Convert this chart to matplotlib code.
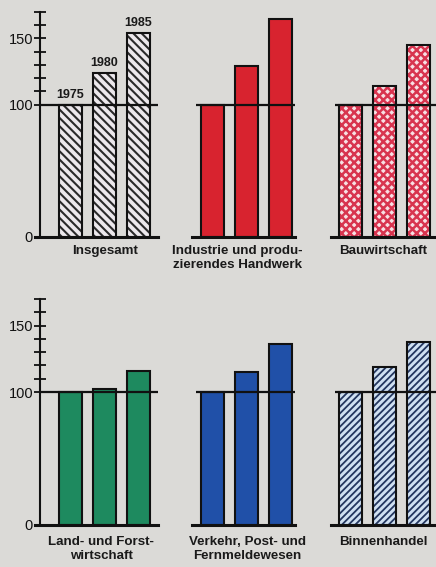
import matplotlib.pyplot as plt
import numpy as np

plt.rcParams['font.family'] = ['Liberation Sans', 'DejaVu Sans']

# Index 1975 = 100
years = ['1975', '1980', '1985']
insgesamt = [100, 124, 154]
industrie = [100, 129, 165]
bau = [100, 114, 145]
land = [100, 102, 116]
verkehr = [100, 115, 136]
binnen = [100, 119, 138]

labels = ['Insgesamt', 'Industrie und produ-\nzierendes Handwerk', 'Bauwirtschaft',
          'Land- und Forst-\nwirtschaft', 'Verkehr, Post- und\nFernmeldewesen', 'Binnenhandel']
series = [insgesamt, industrie, bau, land, verkehr, binnen]

# (face, hatch, hatch colour, hatch linewidth)
styles = [
    ('#ece8ec', '\\\\\\\\', '#2a2a2a', 1.5),
    ('#d8232f', None, None, 0),
    ('#f7e0e4', 'xxxx', '#d8344f', 1.8),
    ('#1e8a5f', None, None, 0),
    ('#2050a8', None, None, 0),
    ('#cfe0f2', '/////', '#23365f', 1.3),
]

W, H = 436, 567
BG = '#dbdad7'
fig = plt.figure(figsize=(W / 100, H / 100), dpi=100, facecolor=BG)

# pixel layout: axes left, axes right, centre of first bar
cols = [(40, 158, 70.5), (196, 295, 212.5), (335, 436, 350.5)]
rows = [(12, 237), (299, 525)]
label_x = [105, 237, 383, 101, 247, 383]
label_dy = [8, 8, 8, 11, 11, 11]
step = 34.0

for i, (vals, lab, sty) in enumerate(zip(series, labels, styles)):
    r, c = divmod(i, 3)
    x0, x1, cx = cols[c]
    yt, yb = rows[r]
    ax = fig.add_axes([x0 / W, 1 - yb / H, (x1 - x0) / W, (yb - yt) / H])
    ax.set_facecolor('none')
    ax.set_xlim(-(cx - x0) / step, (x1 - cx) / step)
    ax.set_ylim(0, 170)
    x = np.arange(len(vals))
    face, hatch, hcol, hlw = sty
    if hatch:
        with plt.rc_context({'hatch.linewidth': hlw}):
            ax.bar(x, vals, width=0.68, color=face, hatch=hatch, edgecolor=hcol,
                   linewidth=0, zorder=2)
    else:
        ax.bar(x, vals, width=0.68, color=face, linewidth=0, zorder=2)
    ax.bar(x, vals, width=0.68, fill=False, edgecolor='#111111', linewidth=1.5, zorder=3)
    ax.axhline(100, color='#111111', lw=1.6, zorder=4)
    ax.plot([-0.04, 1], [0, 0], transform=ax.transAxes, color='#111111', lw=2.2,
            clip_on=False, zorder=4)
    for s in ax.spines.values():
        s.set_visible(False)
    if c == 0:
        ax.spines['left'].set_visible(True)
        ax.spines['left'].set_linewidth(1.5)
        ax.spines['left'].set_color('#111111')
        ticks = [0, 100, 110, 120, 130, 140, 150, 160, 170]
        ax.set_yticks(ticks)
        ax.set_yticklabels(['0', '100', '', '', '', '', '150', '', ''], fontsize=10.5,
                           color='#111111')
        ax.tick_params(axis='y', direction='inout', length=8, width=1.3, pad=1,
                       color='#111111')
    else:
        ax.set_yticks([])
    ax.set_xticks([])
    fig.text(label_x[i] / W, 1 - (yb + label_dy[i]) / H, lab,
             ha='center', va='top', fontsize=9.6,
             fontweight='bold', color='#1a1a1a', linespacing=1.2)
    if i == 0:
        for xi, v, yr in zip(x, vals, years):
            ax.text(xi, v + 3, yr, ha='center', va='bottom', fontsize=9,
                    fontweight='bold', color='#1a1a1a', zorder=5)

fig.savefig('out.png', dpi=100, facecolor=BG)
